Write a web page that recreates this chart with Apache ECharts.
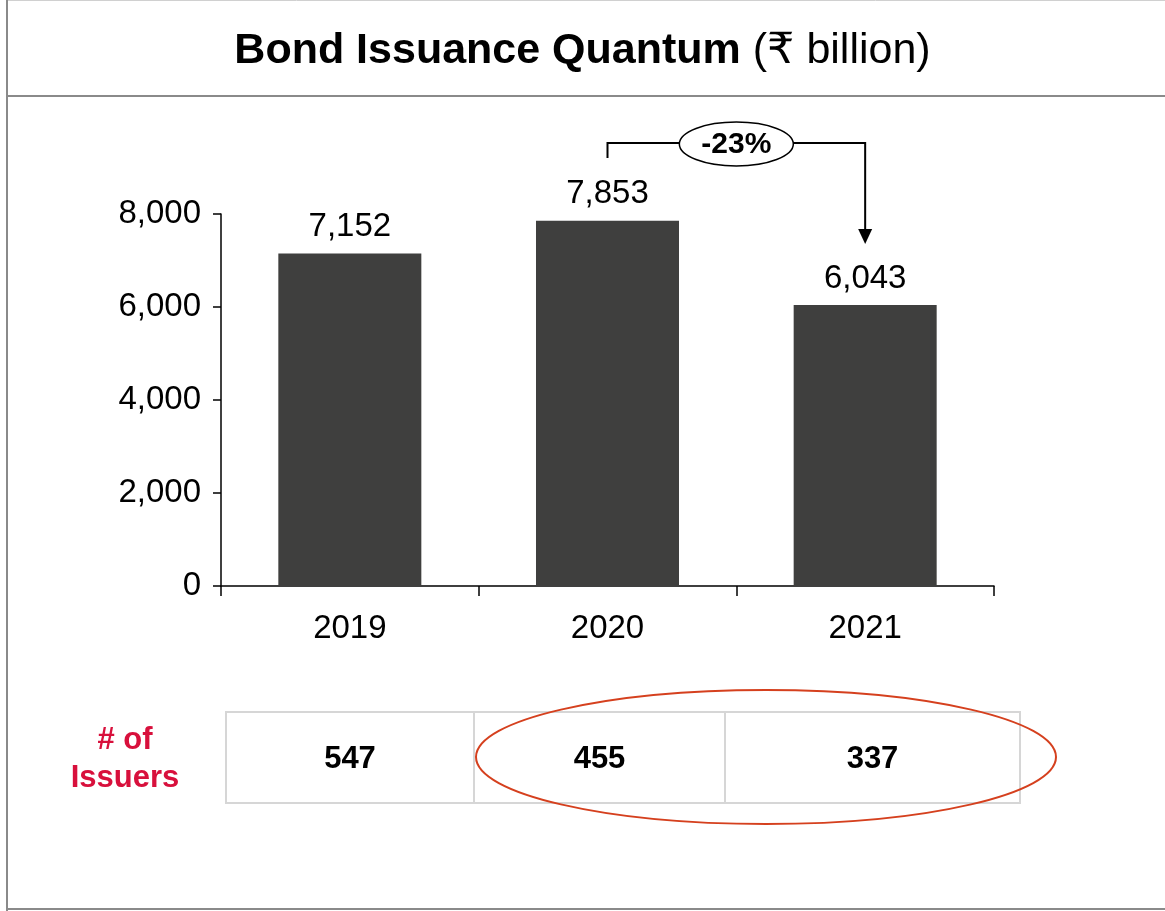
<!DOCTYPE html>
<html><head><meta charset="utf-8">
<script src="https://cdn.jsdelivr.net/npm/echarts@6/dist/echarts.min.js"></script>
<style>html,body{margin:0;padding:0;background:#fff}#c{width:1165px;height:911px}</style>
</head><body><div id="c"></div>
<script>
const categories = ['2019', '2020', '2021'];
const quantum = [7152, 7853, 6043];
const issuers = [547, 455, 337];
const yTicks = [0, 2000, 4000, 6000, 8000];
const changeLabel = '-23%';
const issuerLabel = '# of\nIssuers';

const FONT = '"Liberation Sans", Arial, "DejaVu Sans", sans-serif';
const chart = echarts.init(document.getElementById('c'), null, {renderer: 'canvas'});
const fmt = v => Number(v).toLocaleString('en-US');

chart.setOption({
  animation: false,
  backgroundColor: '#fff',
  title: {
    text: '{b|Bond Issuance Quantum}{n| (₹ billion)}',
    left: 'center', top: 25,
    textStyle: {
      fontWeight: 'normal',
      rich: {
        b: {fontFamily: FONT, fontSize: 43, fontWeight: 'bold', color: '#000'},
        n: {fontFamily: FONT, fontSize: 43, fontWeight: 'normal', color: '#000'}
      }
    }
  },
  grid: {left: 221, right: 171, top: 214, bottom: 325, containLabel: false},
  xAxis: {
    type: 'category', data: categories, boundaryGap: true,
    axisLine: {lineStyle: {color: '#000', width: 1.5}},
    axisTick: {show: true, alignWithLabel: false, length: 10, lineStyle: {color: '#000', width: 1.5}},
    axisLabel: {fontFamily: FONT, fontSize: 33, color: '#000', margin: 26}
  },
  yAxis: {
    type: 'value', min: yTicks[0], max: yTicks[yTicks.length - 1], interval: yTicks[1] - yTicks[0],
    splitLine: {show: false},
    axisLine: {show: true, lineStyle: {color: '#000', width: 1.5}},
    axisTick: {show: true, inside: false, length: 8, lineStyle: {color: '#000', width: 1.5}},
    axisLabel: {fontFamily: FONT, fontSize: 33, color: '#000', margin: 20, formatter: fmt}
  },
  series: [{
    type: 'bar', data: quantum, barWidth: '55.5%',
    itemStyle: {color: '#3f3f3e'},
    label: {show: true, position: 'top', distance: 10, fontFamily: FONT, fontSize: 33, color: '#000', formatter: p => fmt(p.value)}
  }]
});

const x20 = chart.convertToPixel({xAxisIndex: 0}, categories[1]);
const x21 = chart.convertToPixel({xAxisIndex: 0}, categories[2]);
const midX = (x20 + x21) / 2;
const bracketY = 143;

const tbl = {x0: 226, x1: 1020, y0: 712, y1: 803, cols: [226, 474, 725, 1020]};
const graphics = [
  // frame
  {type: 'line', shape: {x1: 7, y1: 0.5, x2: 1165, y2: 0.5}, style: {stroke: '#d0d0d0', lineWidth: 1}},
  {type: 'line', shape: {x1: 7, y1: 0, x2: 7, y2: 911}, style: {stroke: '#8a8a8a', lineWidth: 2}},
  {type: 'line', shape: {x1: 6, y1: 909, x2: 1165, y2: 909}, style: {stroke: '#8a8a8a', lineWidth: 2}},
  {type: 'line', shape: {x1: 6, y1: 96, x2: 1165, y2: 96}, style: {stroke: '#8a8a8a', lineWidth: 2}},
  // bracket
  {type: 'polyline', shape: {points: [[x20, 158], [x20, bracketY], [x21, bracketY], [x21, 230]]}, style: {stroke: '#000', lineWidth: 2, fill: null}},
  {type: 'polygon', shape: {points: [[x21 - 7, 229], [x21 + 7, 229], [x21, 244]]}, style: {fill: '#000'}},
  {type: 'ellipse', shape: {cx: midX, cy: bracketY + 1, rx: 57, ry: 22}, style: {fill: '#fff', stroke: '#000', lineWidth: 1.5}},
  {type: 'text', x: midX, y: bracketY + 2, style: {text: changeLabel, fontFamily: FONT, fontSize: 30, fontWeight: 'bold', fill: '#000', align: 'center', verticalAlign: 'middle'}},
  // table
  {type: 'rect', shape: {x: tbl.x0, y: tbl.y0, width: tbl.x1 - tbl.x0, height: tbl.y1 - tbl.y0}, style: {fill: '#fff', stroke: '#d6d6d6', lineWidth: 2}},
  {type: 'line', shape: {x1: tbl.cols[1], y1: tbl.y0, x2: tbl.cols[1], y2: tbl.y1}, style: {stroke: '#d6d6d6', lineWidth: 2}},
  {type: 'line', shape: {x1: tbl.cols[2], y1: tbl.y0, x2: tbl.cols[2], y2: tbl.y1}, style: {stroke: '#d6d6d6', lineWidth: 2}},
  {type: 'text', x: 125, y: 759, style: {text: issuerLabel, fontFamily: FONT, fontSize: 31, fontWeight: 'bold', fill: '#d8103c', align: 'center', verticalAlign: 'middle', lineHeight: 38}}
];
issuers.forEach((v, i) => {
  graphics.push({type: 'text', x: (tbl.cols[i] + tbl.cols[i + 1]) / 2, y: 759,
    style: {text: String(v), fontFamily: FONT, fontSize: 31, fontWeight: 'bold', fill: '#000', align: 'center', verticalAlign: 'middle'}});
});
graphics.push({type: 'ellipse', shape: {cx: 766, cy: 757, rx: 290, ry: 67}, style: {fill: null, stroke: '#d5401e', lineWidth: 2}});
chart.setOption({graphic: graphics});
</script>
</body></html>
